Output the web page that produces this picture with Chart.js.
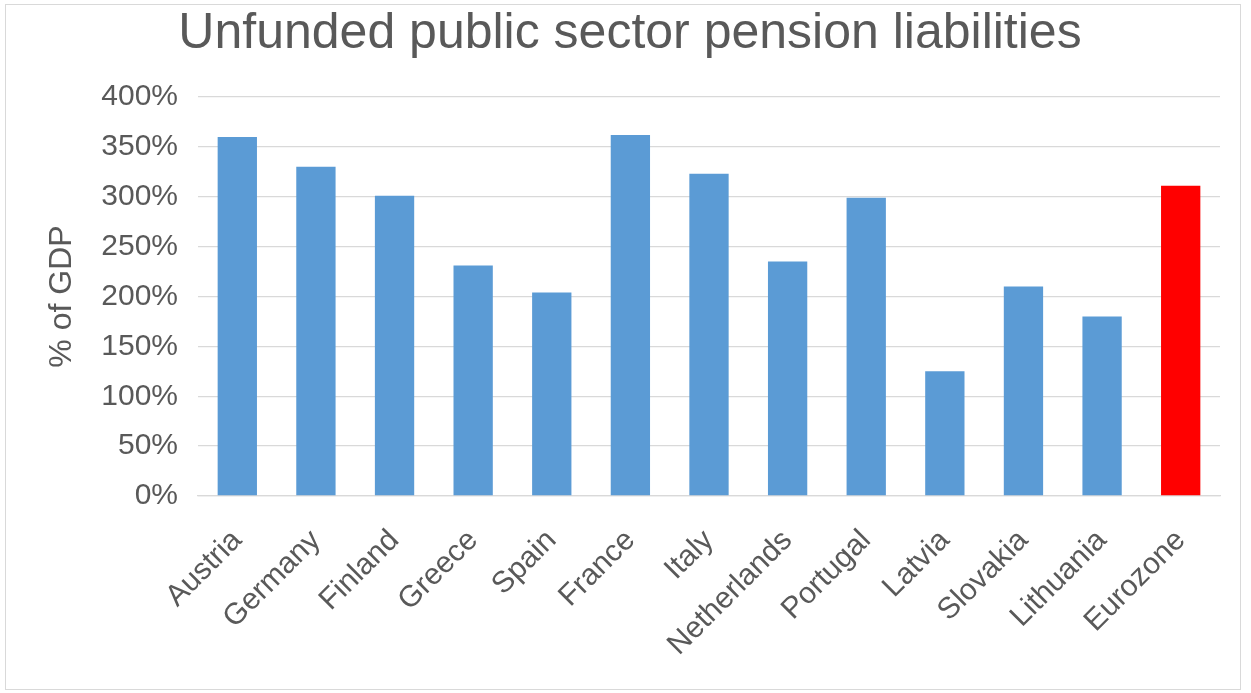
<!DOCTYPE html>
<html>
<head>
<meta charset="utf-8">
<script src="https://cdn.jsdelivr.net/npm/chart.js@4.4.0/dist/chart.umd.min.js"></script>
<style>
  html, body { margin: 0; padding: 0; background: #ffffff; }
  #wrap { position: relative; width: 1251px; height: 693px; }
</style>
</head>
<body>
<div id="wrap"><canvas id="c" width="1251" height="693"></canvas></div>
<script>
const categories = ["Austria", "Germany", "Finland", "Greece", "Spain", "France", "Italy", "Netherlands", "Portugal", "Latvia", "Slovakia", "Lithuania", "Eurozone"];
const values = [360, 330, 301, 231, 204, 362, 323, 235, 299, 125, 210, 180, 311];
const barColors = ["#5B9BD5", "#5B9BD5", "#5B9BD5", "#5B9BD5", "#5B9BD5", "#5B9BD5", "#5B9BD5", "#5B9BD5", "#5B9BD5", "#5B9BD5", "#5B9BD5", "#5B9BD5", "#FF0000"];
const titleText = "Unfunded public sector pension liabilities";
const yAxisTitle = "% of GDP";

const FONT = "'Liberation Sans', Arial, sans-serif";
const TEXT = "#595959";

const frame = {
  id: 'frame',
  beforeDraw(chart) {
    const ctx = chart.ctx;
    ctx.save();
    ctx.fillStyle = '#ffffff';
    ctx.fillRect(0, 0, chart.width, chart.height);
    ctx.strokeStyle = '#D9D9D9';
    ctx.lineWidth = 1;
    ctx.strokeRect(5.5, 4.5, 1235, 685);
    ctx.restore();
  }
};

new Chart(document.getElementById('c'), {
  type: 'bar',
  data: {
    labels: categories,
    datasets: [{
      data: values,
      backgroundColor: barColors,
      borderWidth: 0,
      barPercentage: 0.5,
      categoryPercentage: 1.0
    }]
  },
  plugins: [frame],
  options: {
    responsive: false,
    animation: false,
    devicePixelRatio: 1,
    layout: { padding: { left: 40, right: 31, top: 0, bottom: 0 } },
    plugins: {
      legend: { display: false },
      tooltip: { enabled: false },
      title: {
        display: true,
        text: titleText,
        color: TEXT,
        font: { family: FONT, size: 50, weight: 'normal', lineHeight: 1.2 },
        padding: { top: 4, bottom: 33 }
      }
    },
    scales: {
      x: {
        grid: { display: false, drawTicks: false },
        border: { display: true, color: '#D9D9D9', width: 1.3 },
        ticks: {
          color: TEXT,
          font: { family: FONT, size: 30 },
          minRotation: 45,
          maxRotation: 45,
          padding: 27,
          autoSkip: false
        },
        afterFit(scale) { scale.height = 693 - 496; }
      },
      y: {
        min: 0,
        max: 400,
        ticks: {
          stepSize: 50,
          color: TEXT,
          font: { family: FONT, size: 30 },
          padding: 20,
          callback: v => v + '%'
        },
        grid: { color: '#D9D9D9', lineWidth: 1.3, drawTicks: false },
        border: { display: false },
        title: {
          display: true,
          text: yAxisTitle,
          color: TEXT,
          font: { family: FONT, size: 32 },
          padding: { top: 3, bottom: 0 }
        },
        afterFit(scale) { scale.width = 158; }
      }
    }
  }
});
</script>
</body>
</html>
